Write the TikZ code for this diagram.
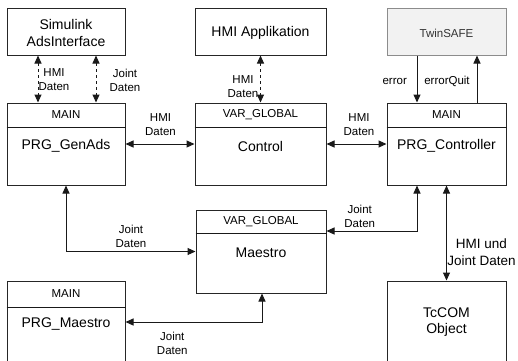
\documentclass[tikz,border=0pt]{standalone}
\usepackage{fontspec}
\setmainfont{Liberation Sans}
\usetikzlibrary{arrows.meta}

\begin{document}
\begin{tikzpicture}[x=1pt,y=-1pt,
  box/.style={draw=black!85, line width=1pt, inner sep=0pt, minimum height=82pt},
  topbox/.style={draw=black!85, line width=1pt, inner sep=0pt, minimum height=47pt},
  safebox/.style={topbox, draw=black!45, fill=black!5},
  maintxt/.style={font=\fontsize{14}{16.5}\selectfont, align=center, inner sep=0pt},
  headtxt/.style={font=\fontsize{11.5}{14}\selectfont, inner sep=0pt},
  lbl/.style={font=\fontsize{11.5}{14}\selectfont, align=center, inner sep=0pt},
  link/.style={line width=1pt, draw=black!90},
  both/.style={link, {Triangle[length=8pt,width=7pt]}-{Triangle[length=8pt,width=7pt]}},
  fwd/.style={link, -{Triangle[length=8pt,width=7pt]}},
  dashlink/.style={both, dash pattern=on 3pt off 3pt}
]
\useasboundingbox (0,0) rectangle (518,360);

% top row
\node[topbox, minimum width=118pt] (sim) at (66,31.5) {};
\node[maintxt] (simT) at (66,33) {Simulink\\AdsInterface};
\node[topbox, minimum width=131pt] (hmi) at (260.5,31.5) {};
\node[maintxt] (hmiT) at (260.5,33) {HMI Applikation};
\node[safebox, minimum width=119pt] (twin) at (446.5,31.5) {};
\node[headtxt, text=black!80] (twinT) at (446.5,33) {TwinSAFE};

% program / global variable blocks
\node[box, minimum width=118pt] (genads) at (66,144) {};
\draw[link] (genads.west |- 0,127) -- (genads.east |- 0,127);
\node[headtxt] (genadsH) at (66,115) {MAIN};
\node[maintxt] (genadsT) at (66,146) {PRG\_GenAds};

\node[box, minimum width=131pt] (control) at (260.5,144) {};
\draw[link] (control.west |- 0,127) -- (control.east |- 0,127);
\node[headtxt] (controlH) at (260.5,115) {VAR\_GLOBAL};
\node[maintxt] (controlT) at (260.5,146) {Control};

\node[box, minimum width=119pt] (ctrl) at (446.5,144) {};
\draw[link] (ctrl.west |- 0,127) -- (ctrl.east |- 0,127);
\node[headtxt] (ctrlH) at (446.5,115) {MAIN};
\node[maintxt] (ctrlT) at (446.5,146) {PRG\_Controller};

\node[box, minimum width=130pt, minimum height=83pt] (maestro) at (261,251.5) {};
\draw[link] (maestro.west |- 0,233) -- (maestro.east |- 0,233);
\node[headtxt] (maestroH) at (261,221.7) {VAR\_GLOBAL};
\node[maintxt] (maestroT) at (261,252.5) {Maestro};

\node[box, minimum width=118pt] (prgm) at (66,322) {};
\draw[link] (prgm.west |- 0,307.5) -- (prgm.east |- 0,307.5);
\node[headtxt] (prgmH) at (66,294) {MAIN};
\node[maintxt] (prgmT) at (66,323.5) {PRG\_Maestro};

\node[box, minimum width=119pt] (tccom) at (446.5,322) {};
\node[maintxt] (tccomT) at (446.5,322) {TcCOM\\Object};

% data links
\draw[dashlink] ([xshift=-28pt]sim.south) -- ([xshift=-28pt]genads.north);
\draw[dashlink] ([xshift=30pt]sim.south) -- ([xshift=30pt]genads.north);
\node[lbl] (l1) at (54,80) {HMI\\Daten};
\node[lbl] (l2) at (125,80) {Joint\\Daten};

\draw[dashlink] (hmi.south) -- (control.north);
\node[lbl] (l3) at (243,86.8) {HMI\\Daten};

\draw[both] (genads.east) -- (control.west);
\node[lbl] (l4) at (160.5,125) {HMI\\Daten};
\draw[both] (control.east) -- (ctrl.west);
\node[lbl] (l5) at (359,125) {HMI\\Daten};

\draw[fwd] ([xshift=-29.5pt]twin.south) -- ([xshift=-29.5pt]ctrl.north);
\draw[fwd] ([xshift=30.5pt]ctrl.north) -- ([xshift=30.5pt]twin.south);
\node[lbl] (l6) at (394.7,81) {error};
\node[lbl] (l7) at (447,81) {errorQuit};

\draw[both] (genads.south) |- (maestro.west);
\node[lbl] (l8) at (131,236) {Joint\\Daten};

\draw[both] ([xshift=-29.5pt]ctrl.south) |- ([yshift=20.5pt]maestro.east);
\node[lbl] (l9) at (359.7,216) {Joint\\Daten};

\draw[both] (ctrl.south) -- (tccom.north);
\node[lbl, font=\fontsize{13.5}{17}\selectfont] (l10) at (481.5,252) {HMI und\\Joint Daten};

\draw[both] ([xshift=1pt]maestro.south) |- (prgm.east);
\node[lbl] (l11) at (172.3,343.3) {Joint\\Daten};
\end{tikzpicture}
\end{document}
